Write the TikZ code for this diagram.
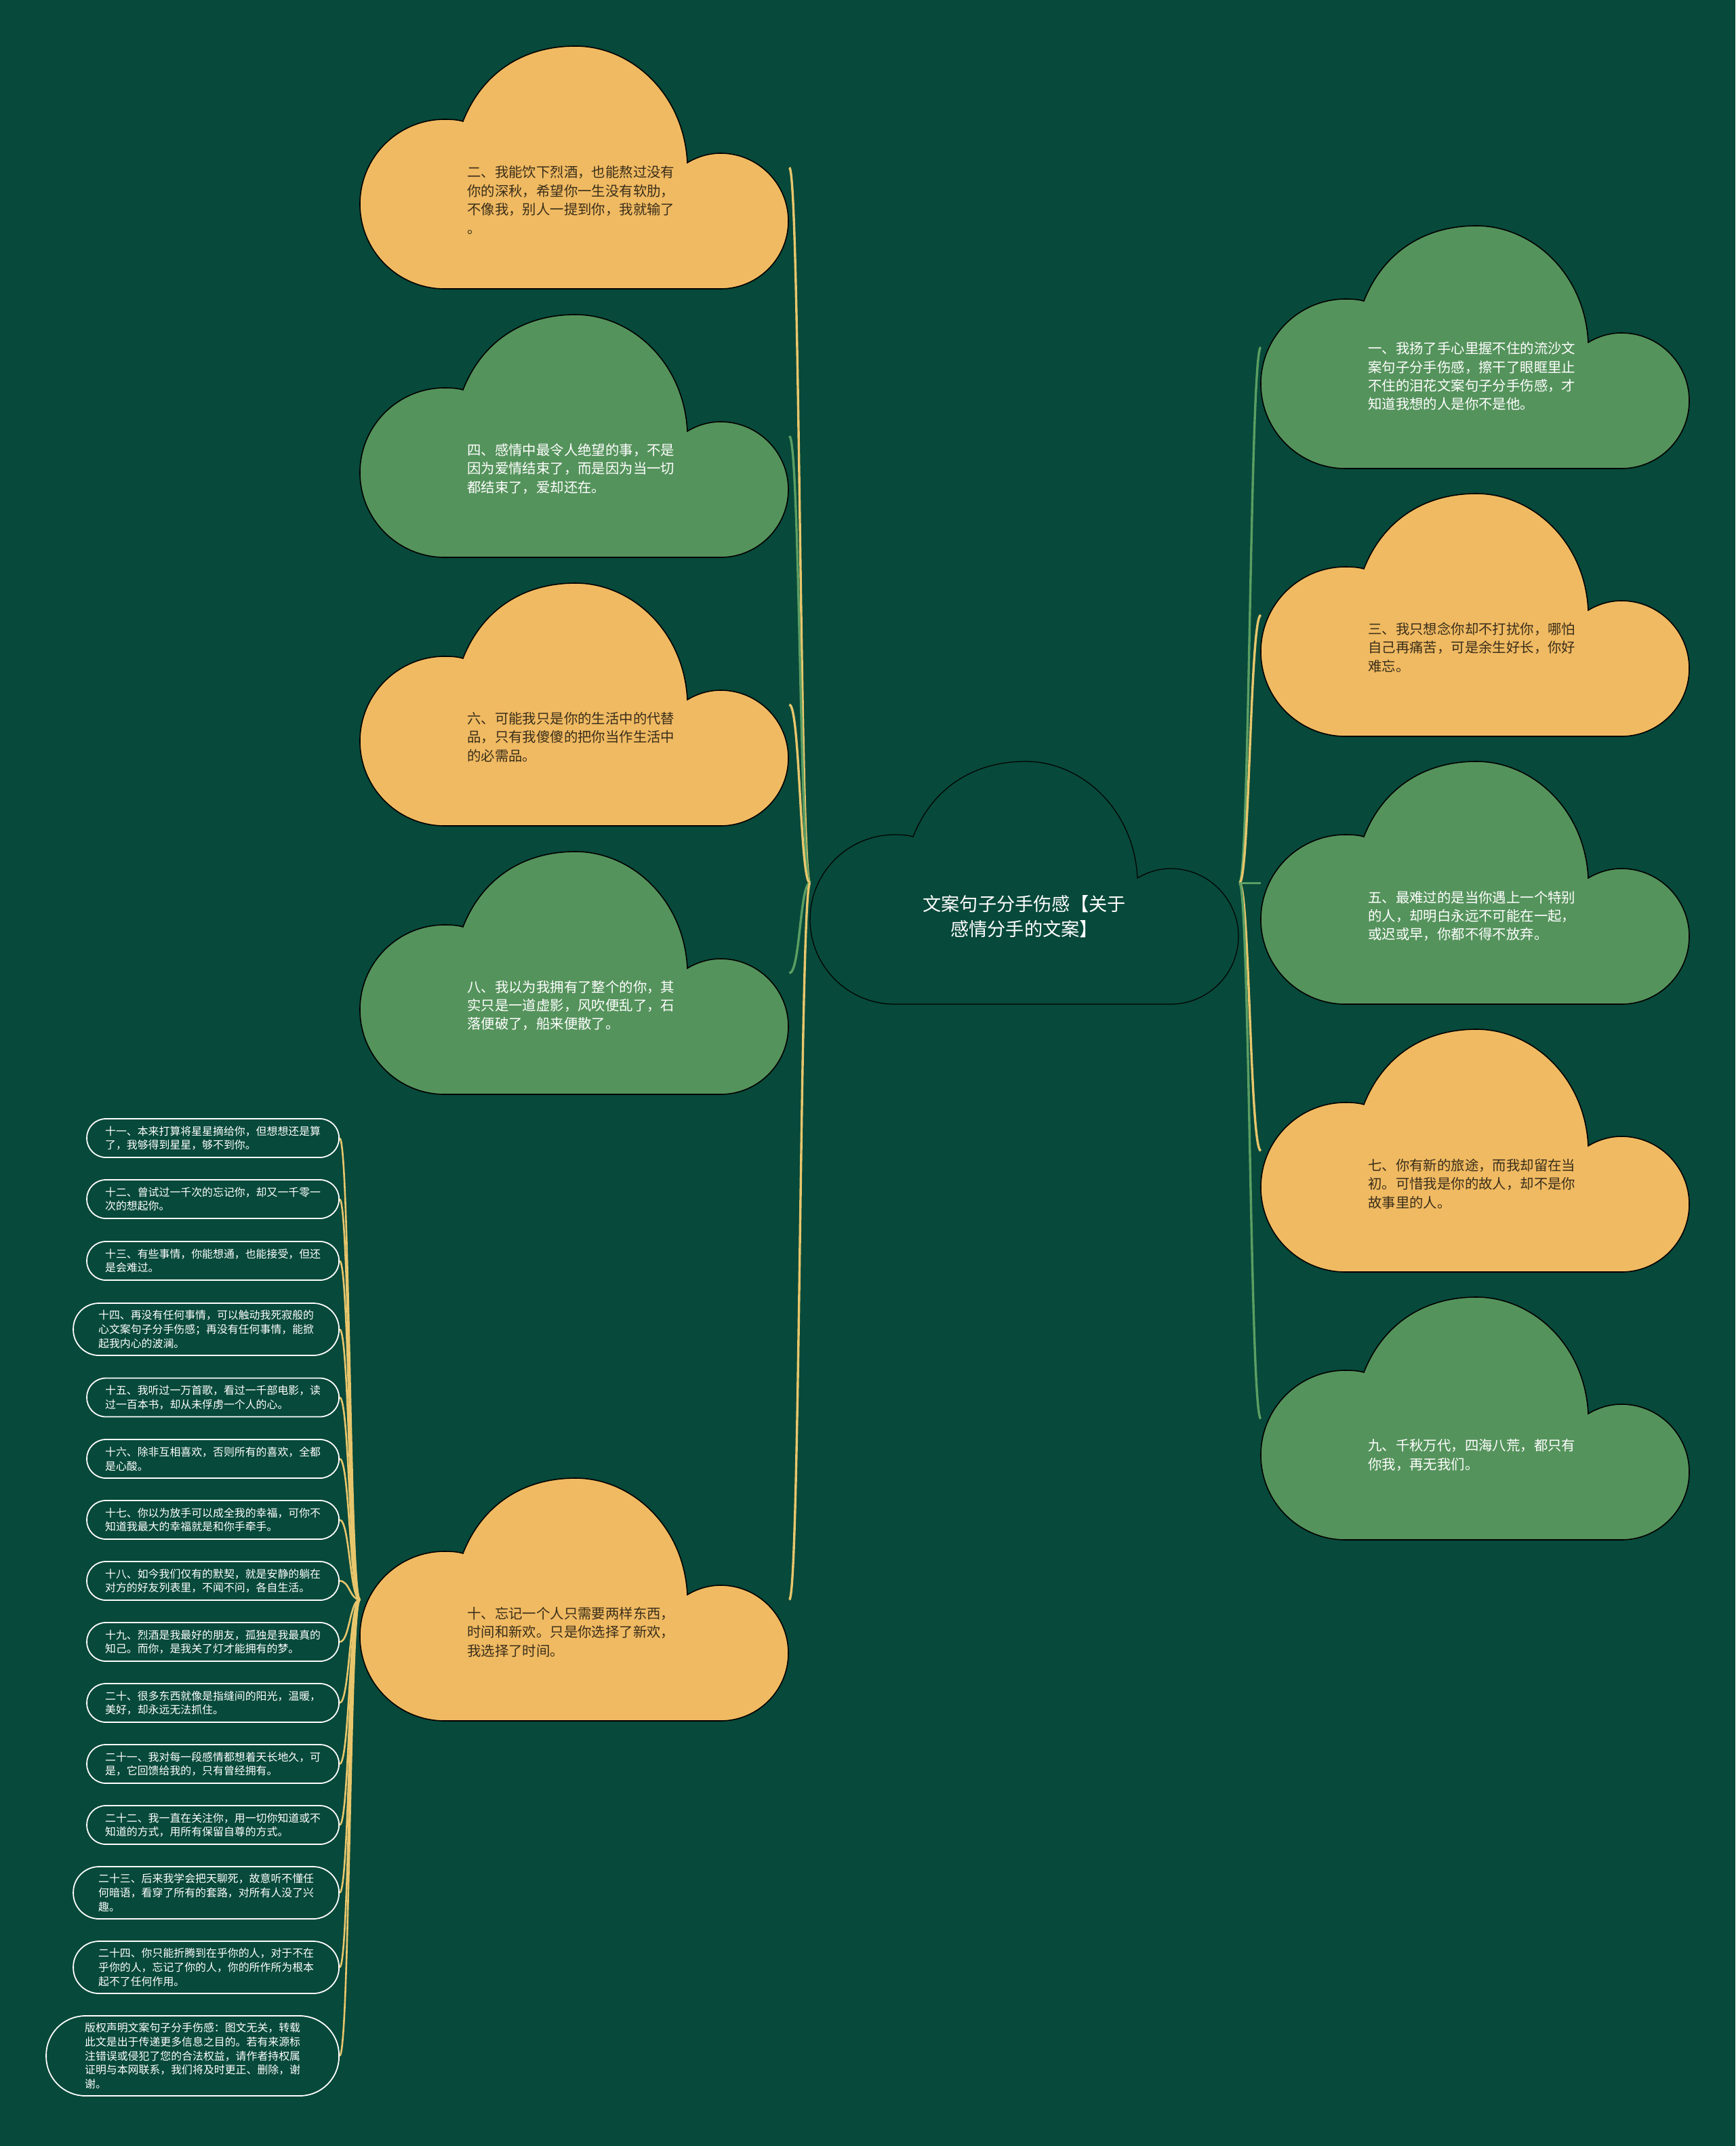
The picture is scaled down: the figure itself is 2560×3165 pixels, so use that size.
\documentclass[tikz,border=0pt]{standalone}
\usepackage{fontspec}
\setmainfont{Noto Sans CJK SC}
\usetikzlibrary{calc}
\pgfdeclarelayer{bgl}
\pgfsetlayers{bgl,main}
\definecolor{bgc}{HTML}{07493A}
\definecolor{orc}{HTML}{F0BA62}
\definecolor{grc}{HTML}{55935C}
\definecolor{lnY}{HTML}{E8C66C}
\definecolor{lnG}{HTML}{5A9E63}
\definecolor{txd}{HTML}{3A2E1A}
\newcommand\mycloud[3]{%
  \path[#3,shift={(#1,#2)}] (125,358)
   .. controls (56,358) and (0,302) .. (0,233)
   .. controls (0,164) and (56,108) .. (125,108)
   .. controls (137,108) and (146,109) .. (152,111)
   .. controls (180,40) and (240,0) .. (318,0)
   .. controls (400,0) and (478,70) .. (483,172)
   .. controls (498,163) and (515,158) .. (532,158)
   .. controls (587,158) and (632,203) .. (632,258)
   .. controls (632,313) and (587,358) .. (532,358)
   -- cycle;}
\begin{document}
\begin{tikzpicture}[x=1pt,y=-1pt,
  box/.style={minimum width=633pt,minimum height=358pt,inner sep=0pt,anchor=north west},
  tdark/.style={anchor=west,align=left,inner sep=0pt,text=txd,font=\fontsize{20.4}{27.4}\selectfont},
  tlight/.style={tdark,text=white},
  orcl/.style={fill=orc,draw=black,line width=1.6pt},
  grcl/.style={fill=grc,draw=black,line width=1.6pt},
  cncl/.style={fill=bgc,draw=black,line width=1.2pt},
  lnYs/.style={draw=lnY,line width=3.4pt},
  lnGs/.style={draw=lnG,line width=3.4pt},
  lnSm/.style={draw=lnY,line width=2.6pt},
  smallbox/.style={draw=white,line width=1.8pt,fill=bgc,text=white,align=left,text width=318pt,inner sep=0pt,anchor=east,font=\fontsize{15.9}{20.7}\selectfont},
  sa/.style={smallbox,minimum height=57pt,minimum width=372pt,rounded corners=28pt},
  sb/.style={smallbox,minimum height=77pt,minimum width=392pt,rounded corners=38pt},
  sc/.style={smallbox,minimum height=118pt,minimum width=432pt,rounded corners=58pt}
]
\useasboundingbox (0,0) rectangle (2560,3165);

% bounding boxes of clouds
\node[box] (n0) at (1195,1123) {};
\node[box] (n2) at (531,68) {};
\node[box] (n4) at (531,464) {};
\node[box] (n6) at (531,860) {};
\node[box] (n8) at (531,1256) {};
\node[box] (n10) at (531,2180) {};
\node[box] (n1) at (1860,333) {};
\node[box] (n3) at (1860,728) {};
\node[box] (n5) at (1860,1123) {};
\node[box] (n7) at (1860,1518) {};
\node[box] (n9) at (1860,1913) {};

% clouds
\mycloud{1195}{1123}{cncl}
\mycloud{531}{68}{orcl}
\mycloud{531}{464}{grcl}
\mycloud{531}{860}{orcl}
\mycloud{531}{1256}{grcl}
\mycloud{531}{2180}{orcl}
\mycloud{1860}{333}{grcl}
\mycloud{1860}{728}{orcl}
\mycloud{1860}{1123}{grcl}
\mycloud{1860}{1518}{orcl}
\mycloud{1860}{1913}{grcl}

% cloud texts
\node[anchor=center,align=center,inner sep=0pt,text=white,font=\fontsize{27.2}{37}\selectfont] (t0) at ($(n0.north west)+(316,229)$) {文案句子分手伤感【关于\\感情分手的文案】};
\node[tdark] (t2) at ($(n2.north west)+(158,227)$) {二、我能饮下烈酒，也能熬过没有\\你的深秋，希望你一生没有软肋，\\不像我，别人一提到你，我就输了\\。};
\node[tlight] (t4) at ($(n4.north west)+(158,227)$) {四、感情中最令人绝望的事，不是\\因为爱情结束了，而是因为当一切\\都结束了，爱却还在。};
\node[tdark] (t6) at ($(n6.north west)+(158,227)$) {六、可能我只是你的生活中的代替\\品，只有我傻傻的把你当作生活中\\的必需品。};
\node[tlight] (t8) at ($(n8.north west)+(158,227)$) {八、我以为我拥有了整个的你，其\\实只是一道虚影，风吹便乱了，石\\落便破了，船来便散了。};
\node[tdark] (t10) at ($(n10.north west)+(158,227)$) {十、忘记一个人只需要两样东西，\\时间和新欢。只是你选择了新欢，\\我选择了时间。};
\node[tlight] (t1) at ($(n1.north west)+(158,222)$) {一、我扬了手心里握不住的流沙文\\案句子分手伤感，擦干了眼眶里止\\不住的泪花文案句子分手伤感，才\\知道我想的人是你不是他。};
\node[tdark] (t3) at ($(n3.north west)+(158,227)$) {三、我只想念你却不打扰你，哪怕\\自己再痛苦，可是余生好长，你好\\难忘。};
\node[tlight] (t5) at ($(n5.north west)+(158,228)$) {五、最难过的是当你遇上一个特别\\的人，却明白永远不可能在一起，\\或迟或早，你都不得不放弃。};
\node[tdark] (t7) at ($(n7.north west)+(158,228)$) {七、你有新的旅途，而我却留在当\\初。可惜我是你的故人，却不是你\\故事里的人。};
\node[tlight] (t9) at ($(n9.north west)+(158,233)$) {九、千秋万代，四海八荒，都只有\\你我，再无我们。};

% small nodes
\node[sa] (s11) at (501,1678.5) {十一、本来打算将星星摘给你，但想想还是算\\了，我够得到星星，够不到你。};
\node[sa] (s12) at (501,1768.5) {十二、曾试过一千次的忘记你，却又一千零一\\次的想起你。};
\node[sa] (s13) at (501,1859.5) {十三、有些事情，你能想通，也能接受，但还\\是会难过。};
\node[sb] (s14) at (501,1960.5) {十四、再没有任何事情，可以触动我死寂般的\\心文案句子分手伤感；再没有任何事情，能掀\\起我内心的波澜。};
\node[sa] (s15) at (501,2061) {十五、我听过一万首歌，看过一千部电影，读\\过一百本书，却从未俘虏一个人的心。};
\node[sa] (s16) at (501,2151.5) {十六、除非互相喜欢，否则所有的喜欢，全都\\是心酸。};
\node[sa] (s17) at (501,2241.5) {十七、你以为放手可以成全我的幸福，可你不\\知道我最大的幸福就是和你手牵手。};
\node[sa] (s18) at (501,2331.5) {十八、如今我们仅有的默契，就是安静的躺在\\对方的好友列表里，不闻不问，各自生活。};
\node[sa] (s19) at (501,2421.5) {十九、烈酒是我最好的朋友，孤独是我最真的\\知己。而你，是我关了灯才能拥有的梦。};
\node[sa] (s20) at (501,2511.5) {二十、很多东西就像是指缝间的阳光，温暖，\\美好，却永远无法抓住。};
\node[sa] (s21) at (501,2601.5) {二十一、我对每一段感情都想着天长地久，可\\是，它回馈给我的，只有曾经拥有。};
\node[sa] (s22) at (501,2691.5) {二十二、我一直在关注你，用一切你知道或不\\知道的方式，用所有保留自尊的方式。};
\node[sb] (s23) at (501,2791.5) {二十三、后来我学会把天聊死，故意听不懂任\\何暗语，看穿了所有的套路，对所有人没了兴\\趣。};
\node[sb] (s24) at (501,2901.5) {二十四、你只能折腾到在乎你的人，对于不在\\乎你的人，忘记了你的人，你的所作所为根本\\起不了任何作用。};
\node[sc] (s25) at (501,3032) {版权声明文案句子分手伤感：图文无关，转载\\此文是出于传递更多信息之目的。若有来源标\\注错误或侵犯了您的合法权益，请作者持权属\\证明与本网联系，我们将及时更正、删除，谢\\谢。};

\begin{pgfonlayer}{bgl}
\fill[bgc] (0,0) rectangle (2560,3165);
% main connectors left
\draw[lnYs] (n0.west) .. controls +(-15,0) and +(16,0) .. (n2.east);
\draw[lnGs] (n0.west) .. controls +(-15,0) and +(16,0) .. (n4.east);
\draw[lnYs] (n0.west) .. controls +(-15,0) and +(16,0) .. (n6.east);
\draw[lnGs] (n0.west) .. controls +(-15,0) and +(16,0) .. (n8.east);
\draw[lnYs] (n0.west) .. controls +(-15,0) and +(16,0) .. (n10.east);
% main connectors right
\draw[lnGs] (n0.east) .. controls +(15,0) and +(-16,0) .. (n1.west);
\draw[lnYs] (n0.east) .. controls +(15,0) and +(-16,0) .. (n3.west);
\draw[lnGs] (n0.east) .. controls +(15,0) and +(-16,0) .. (n5.west);
\draw[lnYs] (n0.east) .. controls +(15,0) and +(-16,0) .. (n7.west);
\draw[lnGs] (n0.east) .. controls +(15,0) and +(-16,0) .. (n9.west);
% small connectors
\foreach \s in {s11,s12,s13,s14,s15,s16,s17,s18,s19,s20,s21,s22,s23,s24,s25}
  \draw[lnSm] (n10.west) .. controls +(-15,0) and +(15,0) .. (\s.east);
\end{pgfonlayer}
\end{tikzpicture}
\end{document}
